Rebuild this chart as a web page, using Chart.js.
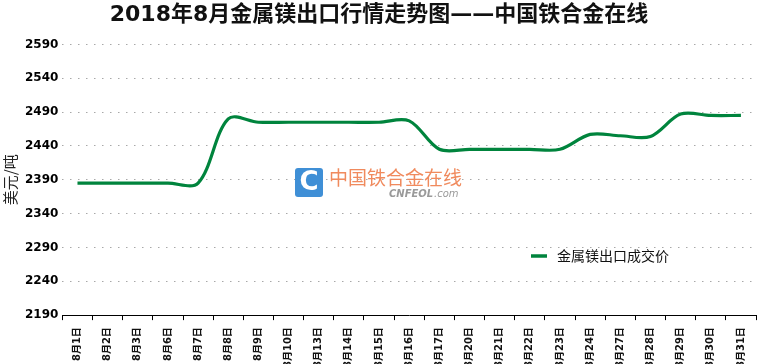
<!DOCTYPE html>
<html>
<head>
<meta charset="utf-8">
<script src="https://cdn.jsdelivr.net/npm/chart.js@4.4.0/dist/chart.umd.min.js"></script>
<style>
  html, body { margin: 0; padding: 0; background: #fff; }
  #wrap { width: 760px; height: 364px; }
</style>
</head>
<body>
<div id="wrap"><canvas id="grafico" width="760" height="364"></canvas></div>
<script>
// --- DATOS ---
const fechas = ["8月1日", "8月2日", "8月3日", "8月6日", "8月7日", "8月8日", "8月9日", "8月10日",
  "8月13日", "8月14日", "8月15日", "8月16日", "8月17日", "8月20日", "8月21日", "8月22日",
  "8月23日", "8月24日", "8月27日", "8月28日", "8月29日", "8月30日", "8月31日"];
const precios = [2385, 2385, 2385, 2385, 2385, 2480, 2475, 2475,
  2475, 2475, 2475, 2477, 2435, 2435, 2435, 2435,
  2435, 2457, 2455, 2454, 2487, 2485, 2485];
const serieNombre = "金属镁出口成交价";
const titulo = "2018年8月金属镁出口行情走势图——中国铁合金在线";
const ejeY = "美元/吨";
const yMin = 2190, yMax = 2590, yPaso = 50;

const VERDE = "#00843d";

// leyenda dibujada dentro del area del grafico
const leyendaPlugin = {
  id: "leyendaInterna",
  afterDraw(chart) {
    const ctx = chart.ctx;
    const ds = chart.data.datasets[0];
    ctx.save();
    ctx.strokeStyle = ds.borderColor;
    ctx.lineWidth = 3.5;
    ctx.beginPath();
    ctx.moveTo(531, 256);
    ctx.lineTo(547, 256);
    ctx.stroke();
    ctx.fillStyle = "#111";
    ctx.font = "14px 'Noto Sans CJK SC'";
    ctx.textBaseline = "middle";
    ctx.fillText(ds.label, 557, 256);
    ctx.restore();
  }
};

// marca de agua
const marcaPlugin = {
  id: "marcaAgua",
  beforeDatasetsDraw(chart) {
    const ctx = chart.ctx;
    ctx.save();
    ctx.fillStyle = "#3f8fd6";
    ctx.beginPath();
    ctx.roundRect(295, 168, 28, 29, 3);
    ctx.fill();
    ctx.fillStyle = "#fff";
    ctx.font = "bold 26px 'DejaVu Sans'";
    ctx.textAlign = "center";
    ctx.textBaseline = "middle";
    ctx.fillText("C", 309, 183);
    ctx.textAlign = "left";
    ctx.fillStyle = "#f08a5d";
    ctx.font = "19px 'Noto Sans CJK SC'";
    ctx.fillText("中国铁合金在线", 329, 178);
    ctx.fillStyle = "#9a9a9a";
    ctx.font = "italic bold 10px 'DejaVu Sans'";
    ctx.fillText("CNFEOL", 389, 194);
    ctx.font = "italic 10px 'DejaVu Sans'";
    ctx.fillText(".com", 434, 194);
    ctx.restore();
  }
};

new Chart(document.getElementById("grafico"), {
  type: "line",
  data: {
    labels: fechas,
    datasets: [{
      label: serieNombre,
      data: precios,
      borderColor: VERDE,
      backgroundColor: VERDE,
      borderWidth: 3.2,
      pointRadius: 0,
      tension: 0.33,
      fill: false
    }]
  },
  options: {
    responsive: false,
    animation: false,
    layout: { padding: { left: 1, right: 3, top: 0, bottom: 0 } },
    plugins: {
      legend: { display: false },
      tooltip: { enabled: false },
      title: {
        display: true,
        text: titulo,
        color: "#111",
        font: { family: "'DejaVu Sans', 'Noto Sans CJK SC'", size: 22, weight: "bold" },
        padding: { top: 2, bottom: 16 }
      }
    },
    scales: {
      x: {
        offset: true,
        // las etiquetas pueden llegar hasta el borde inferior
        afterFit: (scale) => { scale.height = scale.height - 11; },
        grid: {
          display: true,
          offset: true,
          drawOnChartArea: false,
          drawTicks: true,
          tickLength: 5,
          color: "#000"
        },
        border: { display: true, color: "#000", width: 1 },
        ticks: {
          autoSkip: false,
          minRotation: 90,
          maxRotation: 90,
          padding: 7,
          color: "#111",
          font: { family: "'DejaVu Sans', 'Noto Sans CJK SC'", size: 10, weight: "bold" }
        }
      },
      y: {
        min: yMin,
        max: yMax,
        border: { display: false, dash: [1.5, 6.5] },
        grid: {
          color: "#a8a8a8",
          lineWidth: 1,
          drawTicks: false
        },
        ticks: {
          stepSize: yPaso,
          padding: 4,
          color: "#000",
          font: { family: "'DejaVu Sans'", size: 12, weight: "bold" },
          callback: v => String(v)
        },
        title: {
          display: true,
          text: ejeY,
          color: "#222",
          padding: { top: 0, bottom: 2 },
          font: { family: "'Noto Sans CJK SC'", size: 15 }
        }
      }
    }
  },
  plugins: [leyendaPlugin, marcaPlugin]
});
</script>
</body>
</html>
